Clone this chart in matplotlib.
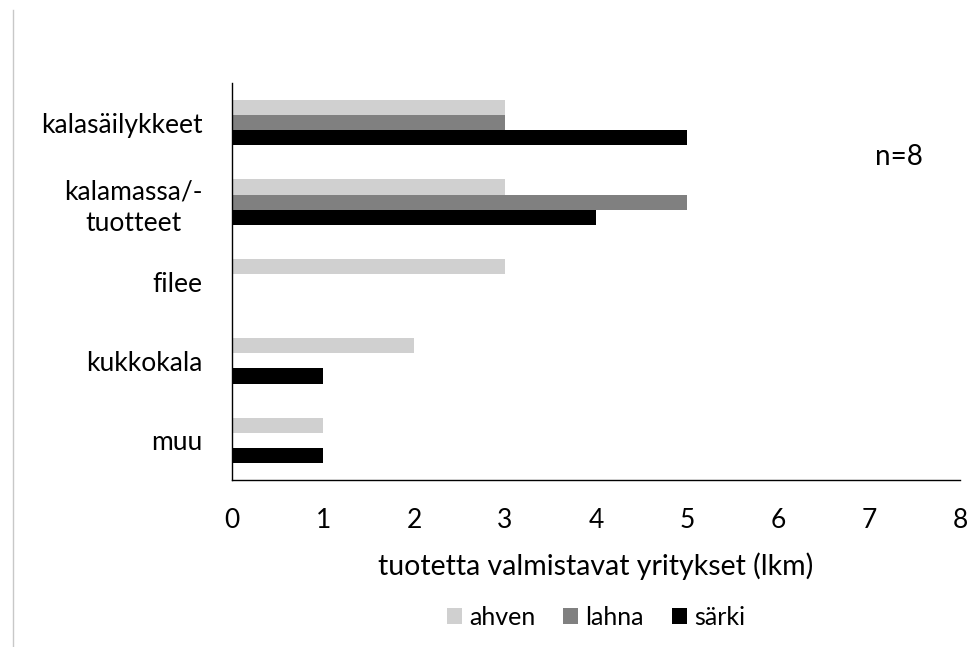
import matplotlib.pyplot as plt
import numpy as np
from matplotlib.lines import Line2D

categories = ["kalasäilykkeet", "kalamassa/-\ntuotteet", "filee", "kukkokala", "muu"]
series = ["ahven", "lahna", "särki"]
ahven = [3, 3, 3, 2, 1]
lahna = [3, 5, 0, 0, 0]
sarki = [5, 4, 0, 1, 1]
x_ticks = [0, 1, 2, 3, 4, 5, 6, 7, 8]

colors = ["#d0d0d0", "#808080", "#000000"]
plt.rcParams["font.family"] = ["Lato", "DejaVu Sans"]

fig = plt.figure(figsize=(9.68, 6.47), dpi=100)
ax = fig.add_axes([0.2397, 0.2581, 0.7520, 0.6136])

y = np.arange(len(categories))
bar_h = 0.19
for k, (name, vals, col) in enumerate(zip(series, [ahven, lahna, sarki], colors)):
    ax.barh(y + (k - 1) * bar_h, vals, height=bar_h, color=col, label=name)

ax.set_ylim(len(categories) - 0.5, -0.5)
ax.set_xlim(0, 8)
ax.set_xticks(x_ticks)
ax.set_yticks(y)
ax.set_yticklabels(categories, multialignment="center", linespacing=1.3)
ax.tick_params(axis="both", length=0, labelsize=19)
ax.tick_params(axis="y", pad=21)
ax.tick_params(axis="x", pad=20)
for side in ("top", "right"):
    ax.spines[side].set_visible(False)
for side in ("left", "bottom"):
    ax.spines[side].set_linewidth(1.0)

ax.set_xlabel("tuotetta valmistavat yritykset (lkm)", fontsize=20.5, labelpad=14)
ax.text(0.883, 0.814, "n=8", transform=ax.transAxes, fontsize=20, ha="left", va="center")

ax.legend(loc="upper center", bbox_to_anchor=(0.5, -0.285), ncol=3, frameon=False,
          fontsize=18, handlelength=0.6, handleheight=0.6, handletextpad=0.3,
          columnspacing=1.1, borderpad=0.0)

# kehyksen vasen reuna
fig.add_artist(Line2D([13 / 968, 13 / 968], [0, 1 - 10 / 647], color="#c8c8c8", lw=1.0))

fig.savefig("out.png", dpi=100)
